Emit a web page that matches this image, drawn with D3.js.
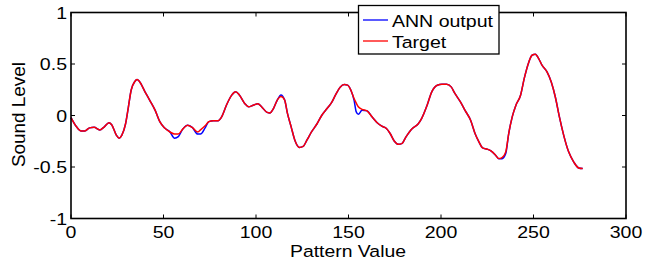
<!DOCTYPE html>
<html>
<head>
<meta charset="utf-8">
<script src="https://cdn.jsdelivr.net/npm/d3@7"></script>
<style>
  body { margin: 0; background: #fff; }
  text { font-family: "Liberation Sans", Arial, sans-serif; fill: #000; }
</style>
</head>
<body>
<div id="chart"></div>
<script>
var xTicks = [0, 50, 100, 150, 200, 250, 300]
var yTicks = [-1, -0.5, 0, 0.5, 1]
var yTickLabels = ['-1', '-0.5', '0', '0.5', '1']

// pattern index
var pattern = [0, 3, 5.5, 7.5, 10, 12.5, 15.5, 18, 20.5, 22, 24.5, 26, 27.5, 29.5, 31, 32.5, 34.5, 35.7, 37, 40,
  42.5, 45.5, 48, 50.5, 53.5, 56, 58, 60.5, 63, 65.5, 68.5, 70, 72.5, 74.5, 77, 79.5, 81.5, 84, 87, 89,
  91, 94, 96, 98.5, 101, 103, 106, 107.5, 109.5, 111.5, 113.5, 115.5, 117, 119, 121, 123.5, 125.5, 127.5, 130, 133,
  135.5, 138.5, 141, 143, 145.5, 147.7, 149.5, 151.3, 153, 154.2, 155.3, 157.3, 160, 162.7, 165.5, 168, 170.5, 172.5, 174.7, 177,
  179, 181, 184.5, 187.5, 189.5, 192.5, 195, 198, 200.5, 203, 205.5, 207.5, 210.5, 213, 216, 218.5, 220.5, 222.5, 225, 227,
  229.5, 231.2, 233, 235, 236.6, 238.5, 240.5, 243, 245, 247.5, 249.2, 251, 252.8, 254.6, 257.3, 259.6, 261.8, 264, 266.3, 269,
  271.7, 274.4, 276.6]

var target = [-0.02, -0.11, -0.15, -0.15, -0.12, -0.115, -0.14, -0.11, -0.07, -0.09, -0.19, -0.22, -0.19, -0.08, 0.08, 0.245, 0.33, 0.35, 0.33, 0.23,
  0.15, 0.05, -0.06, -0.12, -0.16, -0.18, -0.18, -0.13, -0.095, -0.115, -0.16, -0.14, -0.1, -0.06, -0.05, -0.05, -0.01, 0.1, 0.2, 0.23,
  0.2, 0.115, 0.085, 0.1, 0.115, 0.085, 0.03, 0.025, 0.07, 0.15, 0.185, 0.15, 0.02, -0.11, -0.24, -0.31, -0.3, -0.24, -0.16, -0.08,
  0.0, 0.07, 0.13, 0.2, 0.275, 0.3, 0.295, 0.245, 0.165, 0.12, 0.085, 0.06, 0.045, -0.013, -0.07, -0.104, -0.126, -0.175, -0.247, -0.28,
  -0.27, -0.21, -0.126, -0.085, -0.03, 0.1, 0.23, 0.294, 0.304, 0.304, 0.278, 0.214, 0.132, 0.05, -0.046, -0.18, -0.256, -0.315, -0.327, -0.343,
  -0.385, -0.418, -0.408, -0.353, -0.175, -0.013, 0.1, 0.197, 0.36, 0.52, 0.585, 0.595, 0.553, 0.488, 0.423, 0.326, 0.18, -0.014, -0.19, -0.353,
  -0.45, -0.509, -0.515]

var annOutput = [-0.02, -0.11, -0.15, -0.15, -0.12, -0.115, -0.14, -0.11, -0.07, -0.09, -0.19, -0.22, -0.19, -0.08, 0.08, 0.245, 0.33, 0.35, 0.33, 0.23,
  0.15, 0.05, -0.06, -0.12, -0.16, -0.22, -0.205, -0.13, -0.095, -0.115, -0.18, -0.18, -0.12, -0.06, -0.05, -0.05, -0.01, 0.1, 0.2, 0.23,
  0.2, 0.115, 0.085, 0.1, 0.115, 0.085, 0.03, 0.025, 0.07, 0.15, 0.2, 0.15, 0.02, -0.11, -0.24, -0.31, -0.3, -0.24, -0.16, -0.08,
  0.0, 0.07, 0.13, 0.2, 0.275, 0.3, 0.295, 0.245, 0.15, 0.035, 0.012, 0.05, 0.045, -0.013, -0.07, -0.104, -0.126, -0.175, -0.247, -0.28,
  -0.27, -0.21, -0.126, -0.085, -0.03, 0.1, 0.23, 0.294, 0.304, 0.304, 0.278, 0.214, 0.132, 0.05, -0.046, -0.18, -0.256, -0.315, -0.327, -0.343,
  -0.385, -0.42, -0.42, -0.37, -0.175, -0.013, 0.1, 0.197, 0.36, 0.52, 0.585, 0.595, 0.553, 0.488, 0.423, 0.326, 0.18, -0.014, -0.19, -0.353,
  -0.45, -0.509, -0.515]

var W = 646, H = 266
var m = {left: 71, right: 20, top: 12.5, bottom: 47.5}
var sx = 1.15 // reference text looks stretched sideways

var svg = d3.select('#chart').append('svg')
  .attr('width', W).attr('height', H)

var x = d3.scaleLinear().domain([0, 300]).range([m.left, W - m.right])
var y = d3.scaleLinear().domain([-1, 1]).range([H - m.bottom, m.top])

function label(str, px, py, anchor, size, scale){
  return svg.append('text')
    .attr('transform', `translate(${px},${py}) scale(${scale},1)`)
    .attr('text-anchor', anchor)
    .style('font-size', size + 'px')
    .text(str)
}

// lines
var line = d3.line()
  .x((d, i) => x(pattern[i]))
  .y(d => y(d))
  .curve(d3.curveMonotoneX)

svg.append('path').datum(annOutput)
  .attr('d', line).attr('fill', 'none')
  .attr('stroke', '#0000ff').attr('stroke-width', 1.5)

svg.append('path').datum(target)
  .attr('d', line).attr('fill', 'none')
  .attr('stroke', '#ff0000').attr('stroke-width', 1.5)

// box and inward ticks on all four sides
var tl = 4
var ticks = svg.append('g').attr('stroke', '#000').attr('stroke-width', 1)
xTicks.forEach(v => {
  ticks.append('line').attr('x1', x(v)).attr('x2', x(v)).attr('y1', y(-1)).attr('y2', y(-1) - tl)
  ticks.append('line').attr('x1', x(v)).attr('x2', x(v)).attr('y1', y(1)).attr('y2', y(1) + tl)
  label(String(v), x(v), 238, 'middle', 17, sx)
})
yTicks.forEach((v, i) => {
  ticks.append('line').attr('x1', x(0)).attr('x2', x(0) + tl).attr('y1', y(v)).attr('y2', y(v))
  ticks.append('line').attr('x1', x(300)).attr('x2', x(300) - tl).attr('y1', y(v)).attr('y2', y(v))
  label(yTickLabels[i], 67, y(v) + 6, 'end', 17, sx)
})

svg.append('rect')
  .attr('x', x(0)).attr('y', y(1))
  .attr('width', x(300) - x(0)).attr('height', y(-1) - y(1))
  .attr('fill', 'none').attr('stroke', '#000').attr('stroke-width', 1.6)

// axis titles
label('Pattern Value', 348, 256.5, 'middle', 17, 1.14)
svg.append('text')
  .attr('transform', `translate(25,${y(0) - 1}) rotate(-90) scale(1.05,1)`)
  .attr('text-anchor', 'middle')
  .style('font-size', '18px')
  .text('Sound Level')

// legend
var lg = {x: 358.5, y: 5.5, w: 140.5, h: 48.5}
svg.append('rect')
  .attr('x', lg.x).attr('y', lg.y).attr('width', lg.w).attr('height', lg.h)
  .attr('fill', '#fff').attr('stroke', '#000').attr('stroke-width', 1.3)

var legendItems = [
  {name: 'ANN output', color: '#0000ff'},
  {name: 'Target', color: '#ff0000'}
]
legendItems.forEach((d, i) => {
  var ly = 20 + i * 21
  svg.append('line')
    .attr('x1', 363).attr('x2', 388).attr('y1', ly).attr('y2', ly)
    .attr('stroke', d.color).attr('stroke-width', 1.3)
  label(d.name, 392, ly + 6.5, 'start', 17, 1.15)
})
</script>
</body>
</html>
